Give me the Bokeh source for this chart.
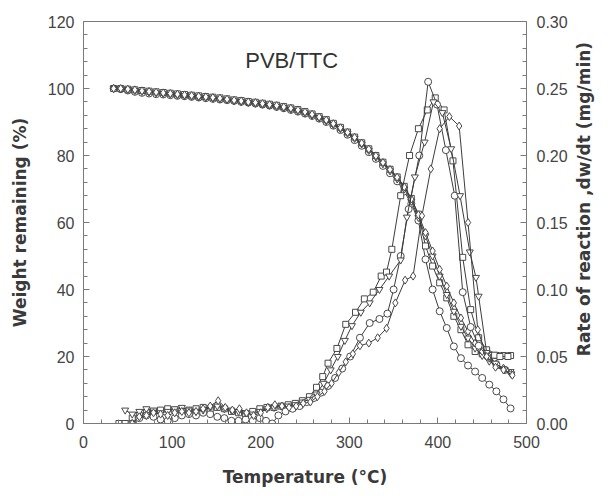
import math
from bokeh.plotting import figure
from bokeh.layouts import row
from bokeh.models import Range1d, LinearAxis, FixedTicker, Label, NumeralTickFormatter
from bokeh.embed import file_html
from bokeh.resources import INLINE

# ---------------- data ----------------
# TG curves: weight remaining (%) vs temperature (C)
TG_T = [34, 42, 50, 58, 66, 74, 82, 90, 98, 106,
        114, 122, 130, 138, 146, 154, 162, 170, 178, 186,
        194, 202, 210, 218, 226, 234, 242, 250, 258, 266,
        274, 282, 290, 298, 306, 314, 322, 330, 338, 346,
        354, 362, 370, 378, 386, 394, 402, 410, 418, 426,
        434, 442, 450, 458, 466, 474, 482]
TG_CIRCLE = [100.0, 99.8, 99.4, 99.0, 98.7, 98.5, 98.3, 98.2, 98.0, 97.8,
             97.7, 97.5, 97.3, 97.1, 96.9, 96.7, 96.5, 96.3, 96.0, 95.8,
             95.5, 95.2, 94.9, 94.5, 94.1, 93.6, 93.1, 92.5, 91.8, 91.0,
             90.0, 88.9, 87.6, 86.2, 84.6, 82.9, 81.0, 79.0, 76.9, 74.7,
             72.3, 69.3, 65.6, 60.6, 49.0, 40.0, 33.5, 28.5, 23.0, 19.5,
             17.3, 15.5, 13.6, 11.6, 9.6, 7.2, 4.5]
TG_SQUARE = [100.0, 100.0, 99.8, 99.6, 99.4, 99.2, 99.0, 98.8, 98.6, 98.4,
             98.2, 98.0, 97.8, 97.6, 97.4, 97.2, 96.9, 96.6, 96.4, 96.1,
             95.9, 95.6, 95.3, 95.0, 94.6, 94.2, 93.7, 93.1, 92.4, 91.6,
             90.7, 89.6, 88.4, 87.0, 85.5, 83.8, 82.0, 80.0, 78.0, 75.9,
             73.6, 70.8, 67.2, 62.5, 53.0, 47.0, 42.0, 37.5, 32.0, 28.0,
             23.5, 21.5, 20.8, 20.5, 20.3, 20.3, 20.3]
TG_TRIANGLE = [100.0, 99.9, 99.7, 99.4, 99.1, 98.9, 98.7, 98.5, 98.3, 98.1,
               97.9, 97.7, 97.5, 97.3, 97.1, 96.9, 96.6, 96.3, 96.1, 95.8,
               95.6, 95.3, 95.0, 94.6, 94.2, 93.8, 93.3, 92.7, 92.0, 91.2,
               90.3, 89.2, 88.0, 86.6, 85.1, 83.4, 81.5, 79.5, 77.5, 75.4,
               73.0, 70.0, 66.3, 61.5, 56.0, 50.0, 44.0, 38.5, 33.5, 29.0,
               25.5, 22.5, 20.3, 18.6, 17.2, 16.2, 15.5]
TG_DIAMOND = [100.0, 100.0, 99.8, 99.6, 99.3, 99.1, 98.9, 98.7, 98.5, 98.3,
              98.1, 97.9, 97.7, 97.5, 97.3, 97.1, 96.8, 96.5, 96.3, 96.0,
              95.8, 95.5, 95.2, 94.9, 94.5, 94.1, 93.6, 93.0, 92.3, 91.5,
              90.6, 89.5, 88.3, 86.9, 85.4, 83.7, 81.9, 79.9, 77.9, 75.8,
              73.5, 70.6, 67.0, 62.3, 57.0, 51.5, 46.0, 41.0, 36.0, 31.5,
              27.5, 24.0, 21.5, 19.5, 17.8, 16.5, 15.0]

# DTG curves: rate of reaction (mg/min) vs temperature (C)
DTG_SQ_T = [40, 47, 55, 63, 71, 79, 87, 95, 103, 111,
            119, 127, 135, 143, 151, 159, 167, 175, 183, 191,
            199, 207, 215, 223, 231, 239, 247, 255, 263, 270,
            276, 286, 296, 307, 317, 327, 336, 342, 348, 358,
            368, 378, 388, 397, 407, 417, 428, 437, 446, 455,
            464, 470, 479]
DTG_SQ = [0.0, 0.0, 0.004, 0.006, 0.008, 0.009, 0.010, 0.011, 0.010, 0.009,
          0.010, 0.011, 0.012, 0.010, 0.012, 0.011, 0.009, 0.008, 0.007, 0.009,
          0.011, 0.012, 0.012, 0.013, 0.014, 0.015, 0.017, 0.020, 0.027, 0.035,
          0.045, 0.056, 0.074, 0.083, 0.093, 0.098, 0.110, 0.113, 0.130, 0.170,
          0.200, 0.220, 0.234, 0.243, 0.234, 0.196, 0.124, 0.085, 0.064, 0.055,
          0.051, 0.050, 0.050]

DTG_CI_T = [55, 63, 71, 79, 87, 95, 103, 111, 119, 127,
            135, 143, 151, 159, 167, 175, 183, 191, 199, 206,
            213, 220, 228, 236, 244, 252, 260, 268, 276, 284,
            292, 301, 312, 323, 334, 343, 350, 358, 367, 379,
            389, 399, 409, 419, 428, 437, 446, 456, 466, 476]
DTG_CI = [0.0, 0.004, 0.006, 0.005, 0.003, 0.002, 0.004, 0.006, 0.007, 0.006,
          0.008, 0.007, 0.005, 0.004, 0.002, 0.002, 0.003, 0.002, 0.004, 0.002,
          0.0, 0.006, 0.009, 0.011, 0.013, 0.016, 0.019, 0.023, 0.028, 0.034,
          0.041, 0.050, 0.064, 0.075, 0.078, 0.082, 0.100, 0.125, 0.160, 0.200,
          0.255, 0.238, 0.204, 0.170, 0.098, 0.072, 0.058, 0.050, 0.044, 0.040]

DTG_TR_T = [47, 55, 63, 71, 79, 87, 95, 103, 111, 119,
            127, 135, 143, 151, 159, 167, 175, 183, 191, 199,
            207, 215, 223, 231, 239, 247, 255, 263, 271, 279,
            287, 295, 303, 313, 323, 334, 345, 358, 365, 374,
            385, 395, 405, 415, 425, 436, 443, 446, 455, 465,
            475, 483]
DTG_TR = [0.010, 0.007, 0.009, 0.011, 0.010, 0.008, 0.009, 0.011, 0.012, 0.010,
          0.009, 0.010, 0.012, 0.013, 0.011, 0.010, 0.009, 0.008, 0.007, 0.009,
          0.011, 0.012, 0.013, 0.013, 0.014, 0.016, 0.018, 0.022, 0.030, 0.040,
          0.050, 0.062, 0.073, 0.083, 0.090, 0.100, 0.110, 0.122, 0.154, 0.184,
          0.210, 0.240, 0.232, 0.205, 0.170, 0.128, 0.109, 0.095, 0.053, 0.045,
          0.040, 0.037]

DTG_DI_T = [55, 63, 71, 79, 87, 95, 103, 111, 119, 127,
            135, 143, 152, 160, 168, 176, 184, 192, 200, 208,
            216, 224, 232, 240, 248, 256, 264, 272, 280, 288,
            296, 304, 312, 322, 332, 342, 352, 363, 372, 382,
            392, 402, 413, 424, 434, 445, 455, 465, 474, 484]
DTG_DI = [0.0, 0.005, 0.006, 0.008, 0.007, 0.006, 0.008, 0.009, 0.008, 0.009,
          0.011, 0.013, 0.017, 0.012, 0.010, 0.011, 0.008, 0.006, 0.008, 0.012,
          0.014, 0.013, 0.012, 0.013, 0.015, 0.016, 0.020, 0.024, 0.030, 0.038,
          0.046, 0.052, 0.058, 0.060, 0.064, 0.071, 0.090, 0.107, 0.110, 0.155,
          0.190, 0.220, 0.229, 0.222, 0.150, 0.070, 0.050, 0.042, 0.040, 0.036]

X_TICKS = [0, 100, 200, 300, 400, 500]
X_MINOR = [20, 40, 60, 80, 120, 140, 160, 180, 220, 240, 260, 280,
           320, 340, 360, 380, 420, 440, 460, 480]
Y_TICKS = [0, 20, 40, 60, 80, 100, 120]
Y_MINOR = [4, 8, 12, 16, 24, 28, 32, 36, 44, 48, 52, 56, 64, 68, 72, 76,
           84, 88, 92, 96, 104, 108, 112, 116]
R_TICKS = [0.0, 0.05, 0.10, 0.15, 0.20, 0.25, 0.30]
R_MINOR = [0.01, 0.02, 0.03, 0.04, 0.06, 0.07, 0.08, 0.09, 0.11, 0.12,
           0.13, 0.14, 0.16, 0.17, 0.18, 0.19, 0.21, 0.22, 0.23, 0.24,
           0.26, 0.27, 0.28, 0.29]

RIGHT_TITLE = "Rate of reaction ,dw/dt (mg/min)"

# ---------------- main figure ----------------
p = figure(width=570, height=490, output_backend="svg", toolbar_location=None,
           x_range=Range1d(0, 500), y_range=Range1d(0, 120),
           min_border_left=83, min_border_right=43, min_border_top=21,
           min_border_bottom=67)
p.extra_y_ranges = {"rate": Range1d(0, 0.30)}
p.xgrid.visible = False
p.ygrid.visible = False
p.outline_line_color = "#7a7a7a"
p.outline_line_width = 1
p.background_fill_color = "white"
p.border_fill_color = "white"

raxis = LinearAxis(y_range_name="rate")
p.add_layout(raxis, "right")

p.xaxis.ticker = FixedTicker(ticks=X_TICKS, minor_ticks=X_MINOR)
p.yaxis[0].ticker = FixedTicker(ticks=Y_TICKS, minor_ticks=Y_MINOR)
raxis.ticker = FixedTicker(ticks=R_TICKS, minor_ticks=R_MINOR)
raxis.formatter = NumeralTickFormatter(format="0.00")

for ax in [p.xaxis[0], p.yaxis[0], raxis]:
    ax.axis_line_color = "#7a7a7a"
    ax.major_tick_line_color = "#7a7a7a"
    ax.minor_tick_line_color = "#7a7a7a"
    ax.major_tick_in = 6
    ax.major_tick_out = 0
    ax.minor_tick_in = 4
    ax.minor_tick_out = 0
    ax.major_label_text_font = "Liberation Sans"
    ax.major_label_text_font_size = "16px"
    ax.major_label_text_color = "#444444"
    ax.axis_label_text_font = "DejaVu Sans"
    ax.axis_label_text_font_size = "17px"
    ax.axis_label_text_font_style = "bold"
    ax.axis_label_text_color = "#3a3a3a"

p.xaxis.axis_label = "Temperature (°C)"
p.xaxis.major_label_standoff = 12
p.xaxis.axis_label_standoff = 16
p.yaxis[0].axis_label = "Weight remaining (%)"
p.yaxis[0].major_label_standoff = 9
p.yaxis[0].axis_label_standoff = 15
raxis.major_label_standoff = 10

LINE_C = "#3c3c3c"
MARK_C = "#4a4a4a"
MSIZE = 7

def series(xs, ys, marker, rng=None, size=MSIZE):
    kw = {}
    if rng:
        kw["y_range_name"] = rng
    p.line(xs, ys, line_color=LINE_C, line_width=1, **kw)
    p.scatter(xs, ys, marker=marker, size=size, line_color=MARK_C,
              line_width=1, fill_color="white", **kw)

series(TG_T, TG_CIRCLE, "circle")
series(TG_T, TG_SQUARE, "square", size=6)
series(TG_T, TG_TRIANGLE, "inverted_triangle")
series(TG_T, TG_DIAMOND, "diamond", size=8)

series(DTG_SQ_T, DTG_SQ, "square", "rate", size=6)
series(DTG_CI_T, DTG_CI, "circle", "rate")
series(DTG_TR_T, DTG_TR, "inverted_triangle", "rate")
series(DTG_DI_T, DTG_DI, "diamond", "rate", size=8)

title = Label(x=235, y=108.4, text="PVB/TTC", text_align="center",
              text_baseline="middle", text_font="Liberation Sans",
              text_font_size="22px", text_color="#333333")
p.add_layout(title)

# ---------------- narrow strip carrying the right-hand axis title ----------------
s = figure(width=30, height=490, output_backend="svg", toolbar_location=None,
           x_range=Range1d(0, 1), y_range=Range1d(0, 120),
           x_axis_type=None, y_axis_type=None,
           min_border_left=0, min_border_right=0, min_border_top=21,
           min_border_bottom=67)
s.outline_line_color = None
s.background_fill_color = "white"
s.border_fill_color = "white"
rtitle = Label(x=0.45, y=67, text=RIGHT_TITLE, angle=math.pi / 2,
               text_align="center", text_baseline="middle",
               text_font="DejaVu Sans", text_font_size="17px",
               text_font_style="bold", text_color="#3a3a3a")
s.add_layout(rtitle)

layout = row(p, s)
open("out.html", "w").write(file_html(layout, INLINE))
